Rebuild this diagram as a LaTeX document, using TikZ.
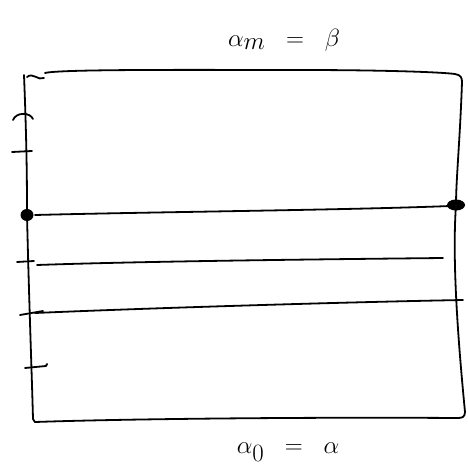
\documentclass[tikz,border=0pt]{standalone}
\begin{document}
\begin{tikzpicture}[x=1pt,y=-1pt,
  pen/.style={line width=1.8pt,line cap=round,line join=round,black},
  lbl/.style={inner sep=0pt,font=\fontsize{34}{40}\selectfont}]
\useasboundingbox (0,0) rectangle (467,468);
% coordinates
\coordinate (tl) at (24,75);
\coordinate (bl) at (33,419);
\coordinate (br) at (465,412);
\coordinate (tr) at (462,82);
\coordinate (dl) at (27,215);
\coordinate (dr) at (456,205);
% frame
\draw[pen] (tl) .. controls (27,150) and (27,190) .. (dl) .. controls (29,300) and (32,380) .. (bl) -- (35,422);
\draw[pen] (27,77) .. controls (33,72) and (38,81) .. (44,78);
\draw[pen] (45,73) .. controls (60,69) and (200,70) .. (300,70) .. controls (380,70) and (440,72) .. (455,74) .. controls (461,75) and (462,78) .. (tr);
\draw[pen] (tr) .. controls (460,140) and (456,180) .. (dr) .. controls (452,260) and (458,340) .. (br) .. controls (465,417) and (462,418) .. (458,418) .. controls (300,417) and (120,419) .. (35,422);
% horizontal lines
\coordinate (a1) at (35,215); \coordinate (b1) at (450,206);
\coordinate (a2) at (37,265); \coordinate (b2) at (443,258);
\coordinate (a3) at (35,313); \coordinate (b3) at (463,300);
\draw[pen] (a1) .. controls (150,212) and (350,210) .. (b1);
\draw[pen] (a2) .. controls (150,261) and (350,259) .. (b2);
\draw[pen] (a3) .. controls (150,308) and (350,302) .. (b3);
% ticks
\draw[pen] (13,120) .. controls (16,112) and (30,112) .. (33,119);
\draw[pen] (12,152) -- (32,151);
\draw[pen] (17,262) -- (34,261);
\draw[pen] (20,315) -- (43,311);
\draw[pen] (25,368) -- (46,366) -- (47,364);
% dots
\fill (dl) ellipse [x radius=6.5pt, y radius=6pt];
\fill (dr) ellipse [x radius=9pt, y radius=5.5pt];
% labels
\node[lbl] (top) at (284,40) {$\alpha_m \;\;=\;\; \beta$};
\node[lbl] (bot) at (288,452) {$\alpha_0 \;\;=\;\; \alpha$};
\end{tikzpicture}
\end{document}
